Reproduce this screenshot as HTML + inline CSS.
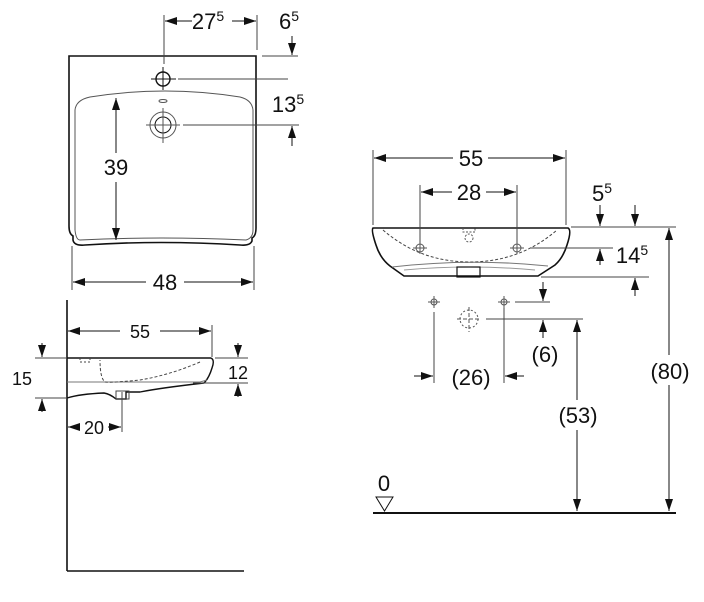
<!DOCTYPE html>
<html><head><meta charset="utf-8"><style>
html,body{margin:0;padding:0;background:#fff;}
svg{display:block;}
text{font-family:"Liberation Sans",sans-serif;fill:#111;}
</style></head><body>
<svg width="704" height="602" viewBox="0 0 704 602" xmlns="http://www.w3.org/2000/svg">
<defs>
<marker id="a" viewBox="0 0 12 8" refX="12" refY="4" markerWidth="12" markerHeight="8" markerUnits="userSpaceOnUse" orient="auto"><path d="M0,0 L12,4 L0,8 Z" fill="#111"/></marker>
</defs>
<g stroke="#111" stroke-width="1" fill="none">
<!-- TOP VIEW -->
<path d="M69,56 L256,56 L256,228 Q256,236 252,238 L252,241 Q250,246 240,245 Q160,240 85,245 Q74,246 73,240 L73,236 Q69,234 69,226 Z" stroke-width="1.6"/>
<path d="M80,240 Q160,236 246,240 Q253,238 253,230 L253,110 Q252,100 240,97 Q165,85 90,97 Q76,100 75,110 L75,230 Q76,240 80,240 Z" stroke="#555"/>
<ellipse cx="163" cy="101" rx="4" ry="1.5" stroke="#555"/>
<circle cx="163" cy="79" r="7" stroke-width="1.4"/>
<line x1="151" y1="79" x2="176" y2="79"/><line x1="163" y1="67" x2="163" y2="90"/>
<line x1="178" y1="79" x2="288" y2="79" stroke="#444"/>
<circle cx="163" cy="125" r="13" stroke="#555"/>
<circle cx="163" cy="125" r="8"/>
<line x1="146" y1="125" x2="180" y2="125" stroke="#555"/><line x1="163" y1="108" x2="163" y2="143" stroke="#555"/>
<line x1="183" y1="125" x2="299" y2="125" stroke="#444"/>
<line x1="164" y1="15" x2="164" y2="64" stroke="#444"/>
<line x1="257" y1="15" x2="257" y2="50" stroke="#444"/>
<line x1="192" y1="21" x2="165" y2="21" marker-end="url(#a)"/>
<line x1="232" y1="21" x2="256" y2="21" marker-end="url(#a)"/>
<line x1="262" y1="56" x2="298" y2="56" stroke="#444"/>
<line x1="292" y1="36" x2="292" y2="55" marker-end="url(#a)"/>
<line x1="292" y1="146" x2="292" y2="126" marker-end="url(#a)"/>
<line x1="116" y1="153" x2="116" y2="98" marker-end="url(#a)"/>
<line x1="116" y1="182" x2="116" y2="240" marker-end="url(#a)"/>
<line x1="72" y1="246" x2="72" y2="290" stroke="#444"/>
<line x1="254" y1="246" x2="254" y2="290" stroke="#444"/>
<line x1="146" y1="282" x2="73" y2="282" marker-end="url(#a)"/>
<line x1="184" y1="282" x2="253" y2="282" marker-end="url(#a)"/>

<!-- SIDE VIEW -->
<line x1="67" y1="300" x2="67" y2="571" stroke-width="1.6"/>
<line x1="67" y1="571" x2="244" y2="571" stroke-width="1.6"/>
<line x1="67" y1="358" x2="211" y2="358" stroke-width="1.4"/>
<path d="M211,358 Q215,360 212,368 Q209,378 204,383 Q160,388 140,392 L126,392 L126,399 L116,399 Q110,394 104,393 Q80,394 67,398" stroke-width="1.4"/>
<path d="M67,382 L200,382 L207,380" stroke="#777"/>
<path d="M200,362 Q170,375 140,380 Q110,383 105,382 Q100,378 100,360" stroke="#444" stroke-dasharray="3,2"/>
<path d="M80,358 L80,362 L90,362 L90,358" stroke="#444" stroke-dasharray="2,2"/>
<rect x="116" y="391" width="13" height="8" stroke="#444"/>
<line x1="122" y1="392" x2="122" y2="432" stroke="#444"/>
<line x1="212" y1="325" x2="212" y2="357" stroke="#444"/>
<line x1="120" y1="331" x2="68" y2="331" marker-end="url(#a)"/>
<line x1="160" y1="331" x2="211" y2="331" marker-end="url(#a)"/>
<line x1="35" y1="358" x2="67" y2="358" stroke="#444"/>
<line x1="35" y1="398" x2="67" y2="398" stroke="#444"/>
<line x1="42" y1="343" x2="42" y2="357" marker-end="url(#a)"/>
<line x1="42" y1="412" x2="42" y2="399" marker-end="url(#a)"/>
<line x1="215" y1="358" x2="248" y2="358" stroke="#444"/>
<line x1="193" y1="383" x2="248" y2="383" stroke="#444"/>
<line x1="238" y1="343" x2="238" y2="357" marker-end="url(#a)"/>
<line x1="238" y1="397" x2="238" y2="384" marker-end="url(#a)"/>
<line x1="80" y1="427" x2="68" y2="427" marker-end="url(#a)"/>
<line x1="108" y1="427" x2="121" y2="427" marker-end="url(#a)"/>

<!-- FRONT VIEW -->
<path d="M373,228 L568,228 Q572,230 567,245 Q563,258 555,265 L538,276 L404,276 L390,266 Q380,258 376,245 Q371,230 373,228 Z" stroke-width="1.6"/>
<path d="M392,267 Q470,258 548,266" stroke="#777"/>
<path d="M404,270 Q470,264 535,270" stroke="#999"/>
<path d="M383,230 Q420,262 470,262 Q520,262 557,230" stroke="#444" stroke-dasharray="3,2"/>
<rect x="457" y="267" width="23" height="10" stroke-width="1.2"/>
<circle cx="469" cy="238" r="4" stroke="#555" stroke-dasharray="2,1.5"/>
<path d="M463,228 L463,232 L475,232 L475,228" stroke="#555" stroke-dasharray="2,1.5"/>
<circle cx="420" cy="248" r="4" stroke="#555"/><line x1="413" y1="248" x2="427" y2="248" stroke="#555"/><line x1="420" y1="242" x2="420" y2="254" stroke="#555"/>
<circle cx="517" cy="248" r="4" stroke="#555"/><line x1="510" y1="248" x2="524" y2="248" stroke="#555"/><line x1="517" y1="242" x2="517" y2="254" stroke="#555"/>
<line x1="373" y1="150" x2="373" y2="225" stroke="#444"/>
<line x1="566" y1="150" x2="566" y2="225" stroke="#444"/>
<line x1="420" y1="185" x2="420" y2="243" stroke="#444"/>
<line x1="517" y1="185" x2="517" y2="243" stroke="#444"/>
<line x1="453" y1="158" x2="374" y2="158" marker-end="url(#a)"/>
<line x1="488" y1="158" x2="565" y2="158" marker-end="url(#a)"/>
<line x1="452" y1="192" x2="421" y2="192" marker-end="url(#a)"/>
<line x1="486" y1="192" x2="516" y2="192" marker-end="url(#a)"/>
<line x1="571" y1="227" x2="676" y2="227" stroke="#444"/>
<line x1="600" y1="205" x2="600" y2="226" marker-end="url(#a)"/>
<line x1="635" y1="205" x2="635" y2="226" marker-end="url(#a)"/>
<line x1="530" y1="248" x2="613" y2="248" stroke="#444"/>
<line x1="600" y1="265" x2="600" y2="249" marker-end="url(#a)"/>
<line x1="541" y1="277" x2="649" y2="277" stroke="#444"/>
<line x1="635" y1="296" x2="635" y2="278" marker-end="url(#a)"/>
<line x1="543" y1="282" x2="543" y2="301" marker-end="url(#a)"/>
<line x1="515" y1="302" x2="550" y2="302" stroke="#444"/>
<circle cx="434" cy="302" r="3" stroke="#555"/><line x1="428" y1="302" x2="440" y2="302" stroke="#555"/><line x1="434" y1="296" x2="434" y2="308" stroke="#555"/>
<circle cx="504" cy="302" r="3" stroke="#555"/><line x1="498" y1="302" x2="510" y2="302" stroke="#555"/><line x1="504" y1="296" x2="504" y2="308" stroke="#555"/>
<circle cx="469" cy="319" r="9" stroke="#555" stroke-dasharray="2,2"/>
<line x1="457" y1="319" x2="481" y2="319" stroke="#555" stroke-dasharray="4,2"/><line x1="469" y1="307" x2="469" y2="332" stroke="#555" stroke-dasharray="4,2"/>
<line x1="486" y1="319" x2="583" y2="319" stroke="#444"/>
<line x1="543" y1="338" x2="543" y2="320" marker-end="url(#a)"/>
<line x1="434" y1="312" x2="434" y2="383" stroke="#444"/>
<line x1="504" y1="308" x2="504" y2="383" stroke="#444"/>
<line x1="414" y1="376" x2="433" y2="376" marker-end="url(#a)"/>
<line x1="524" y1="376" x2="505" y2="376" marker-end="url(#a)"/>
<line x1="577" y1="400" x2="577" y2="320" marker-end="url(#a)"/>
<line x1="577" y1="430" x2="577" y2="511" marker-end="url(#a)"/>
<line x1="669" y1="355" x2="669" y2="228" marker-end="url(#a)"/>
<line x1="669" y1="385" x2="669" y2="511" marker-end="url(#a)"/>
<line x1="373" y1="513" x2="676" y2="513" stroke-width="2"/>
<path d="M376,497 L393,497 L384.5,511 Z"/>
</g>
<g font-size="22" text-anchor="middle">
<text x="208" y="29">27<tspan font-size="14" dy="-8">5</tspan></text>
<text x="289" y="29">6<tspan font-size="14" dy="-8">5</tspan></text>
<text x="288" y="112">13<tspan font-size="14" dy="-8">5</tspan></text>
<text x="116" y="175">39</text>
<text x="165" y="290">48</text>
<text x="140" y="338" font-size="18">55</text>
<text x="12" y="385" font-size="18" text-anchor="start">15</text>
<text x="238" y="379" font-size="18">12</text>
<text x="94" y="434" font-size="18">20</text>
<text x="471" y="166">55</text>
<text x="469" y="200">28</text>
<text x="602" y="201">5<tspan font-size="14" dy="-8">5</tspan></text>
<text x="632" y="263">14<tspan font-size="14" dy="-8">5</tspan></text>
<text x="545" y="362">(6)</text>
<text x="471" y="385">(26)</text>
<text x="578" y="423">(53)</text>
<text x="670" y="379">(80)</text>
<text x="384" y="491">0</text>
</g>
</svg>
</body></html>
